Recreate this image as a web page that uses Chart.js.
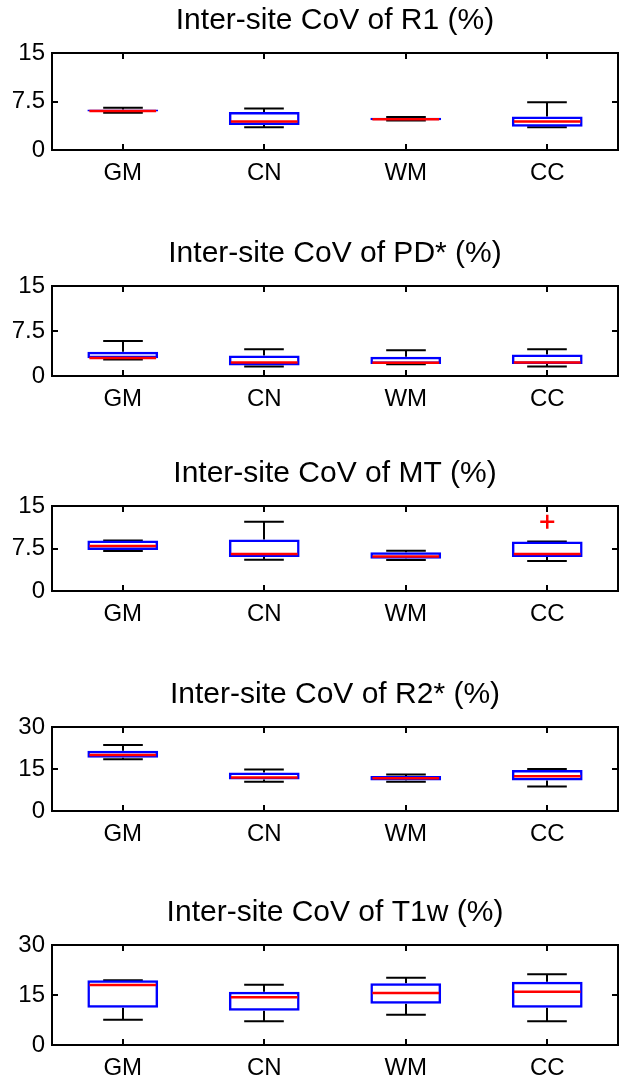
<!DOCTYPE html>
<html>
<head>
<meta charset="utf-8">
<title>Inter-site CoV</title>
<script src="https://cdn.jsdelivr.net/npm/chart.js@4.4.1/dist/chart.umd.min.js"></script>
<style>
  html, body { margin: 0; padding: 0; background: #fff; }
  body { width: 630px; height: 1084px; position: relative; overflow: hidden; }
  .panel { position: absolute; left: 0; }
</style>
</head>
<body>
<div id="panels"></div>
<script>
// Data: each box is [lower whisker, q1, median, q3, upper whisker]
const categories = ['GM', 'CN', 'WM', 'CC'];
const titles = [
    'Inter-site CoV of R1 (%)',
    'Inter-site CoV of PD* (%)',
    'Inter-site CoV of MT (%)',
    'Inter-site CoV of R2* (%)',
    'Inter-site CoV of T1w (%)'
];

const r1Stats = [[5.75, 5.95, 6.05, 6.25, 6.55], [3.5, 3.87, 4.4, 5.88, 6.41], [4.55, 4.6, 4.77, 5.0, 5.1], [3.5, 3.6, 4.4, 5.19, 7.37]];
const pdStats = [[2.75, 2.95, 3.0, 4.05, 5.85], [1.6, 1.76, 2.25, 3.4, 4.45], [1.95, 1.98, 2.2, 3.19, 4.29], [1.6, 1.98, 2.25, 3.57, 4.45]];
const mtStats = [[7.05, 7.22, 7.95, 8.92, 8.92], [5.5, 6.02, 6.53, 9.09, 12.2], [5.45, 5.68, 6.08, 6.82, 7.1], [5.28, 6.02, 6.53, 8.75, 8.75]];
const r2Stats = [[18.5, 19.0, 20.0, 21.5, 23.6], [10.45, 11.25, 12.0, 13.75, 14.8], [10.45, 10.9, 11.7, 12.5, 13.0], [8.75, 10.9, 12.4, 14.66, 15.0]];
const t1Stats = [[7.55, 11.2, 18.0, 19.4, 19.4], [7.14, 10.3, 14.3, 16.0, 18.06], [9.1, 12.4, 15.6, 18.5, 20.2], [7.14, 11.2, 16.0, 19.0, 21.2]];

const mtOutliers = [null, null, null, 12.2];
const noOutliers = [null, null, null, null];

const ticks15 = [0, 7.5, 15];
const ticks30 = [0, 15, 30];

// Layout (plot area top / bottom of each panel)
const plotTops = [53, 286, 506, 727, 945];
const plotBottoms = [150, 376, 591, 811, 1045];

const FONT = 'Liberation Sans, Arial, Helvetica, sans-serif';
const TITLE_SIZE = 30;
const TITLE_PAD_TOP = 2;
const TITLE_PAD_BOTTOM = 14;
const X_AXIS_H = 36;
const PLOT_LEFT = 52;
const PLOT_RIGHT = 618;
// canvas is wider than the page so the title centres over the axes
const CANVAS_W = PLOT_LEFT + PLOT_RIGHT;

// whiskers go under the boxes
const whiskerPlugin = {
    id: 'whiskers',
    beforeDatasetsDraw(chart, args, opts) {
        const { ctx, scales: { x, y } } = chart;
        const meta = chart.getDatasetMeta(0);
        ctx.save();
        ctx.strokeStyle = '#000';
        ctx.lineWidth = 2;
        opts.stats.forEach((s, i) => {
            const cx = Math.round(x.getPixelForValue(i));
            const half = meta.data[i].width / 2;
            const cap = half * 0.56;
            const yLo = y.getPixelForValue(s[0]);
            const yQ1 = y.getPixelForValue(s[1]);
            const yQ3 = y.getPixelForValue(s[3]);
            const yHi = y.getPixelForValue(s[4]);
            ctx.beginPath();
            ctx.moveTo(cx, yQ3); ctx.lineTo(cx, yHi);
            ctx.moveTo(cx, yQ1); ctx.lineTo(cx, yLo);
            ctx.moveTo(cx - cap, yHi); ctx.lineTo(cx + cap, yHi);
            ctx.moveTo(cx - cap, yLo); ctx.lineTo(cx + cap, yLo);
            ctx.stroke();
        });
        ctx.restore();
    },
    afterDatasetsDraw(chart, args, opts) {
        const { ctx, chartArea: a, scales: { x, y } } = chart;
        const meta = chart.getDatasetMeta(0);
        ctx.save();
        // medians
        ctx.strokeStyle = '#ff0000';
        ctx.lineWidth = 2.5;
        opts.stats.forEach((s, i) => {
            const cx = x.getPixelForValue(i);
            const half = meta.data[i].width / 2 - 2;
            const yMed = y.getPixelForValue(s[2]);
            ctx.beginPath();
            ctx.moveTo(cx - half, yMed); ctx.lineTo(cx + half, yMed);
            ctx.stroke();
        });
        // axes frame with inward ticks
        ctx.strokeStyle = '#000';
        ctx.lineWidth = 2;
        ctx.strokeRect(a.left, a.top, a.right - a.left, a.bottom - a.top);
        const tl = 6;
        ctx.beginPath();
        x.ticks.forEach((t, i) => {
            const px = Math.round(x.getPixelForTick(i));
            ctx.moveTo(px, a.bottom); ctx.lineTo(px, a.bottom - tl);
            ctx.moveTo(px, a.top); ctx.lineTo(px, a.top + tl);
        });
        y.ticks.forEach((t, i) => {
            const py = Math.round(y.getPixelForTick(i));
            ctx.moveTo(a.left, py); ctx.lineTo(a.left + tl, py);
            ctx.moveTo(a.right, py); ctx.lineTo(a.right - tl, py);
        });
        ctx.stroke();
        ctx.restore();
    }
};

function makePanel(idx, title, stats, yTicks, outliers) {
    const titleBlock = TITLE_PAD_TOP + TITLE_SIZE * 1.2 + TITLE_PAD_BOTTOM;
    const top = plotTops[idx] - titleBlock;
    const height = plotBottoms[idx] - top + X_AXIS_H;

    const div = document.createElement('div');
    div.className = 'panel';
    div.style.top = top + 'px';
    div.style.width = CANVAS_W + 'px';
    div.style.height = height + 'px';
    const canvas = document.createElement('canvas');
    canvas.width = CANVAS_W;
    canvas.height = height;
    div.appendChild(canvas);
    document.getElementById('panels').appendChild(div);

    new Chart(canvas.getContext('2d'), {
        type: 'bar',
        data: {
            labels: categories,
            datasets: [{
                data: stats.map(s => [s[1], s[3]]),
                backgroundColor: 'rgba(0,0,0,0)',
                borderColor: '#0000ff',
                borderWidth: 2.5,
                borderSkipped: false,
                barPercentage: 0.5,
                categoryPercentage: 1.0
            }, {
                type: 'line',
                data: outliers,
                showLine: false,
                pointStyle: 'cross',
                pointRadius: 7,
                pointBorderWidth: 2.5,
                borderColor: '#ff0000',
                backgroundColor: '#ff0000'
            }]
        },
        options: {
            responsive: false,
            animation: false,
            devicePixelRatio: 1,
            layout: { padding: 0 },
            plugins: {
                legend: { display: false },
                tooltip: { enabled: false },
                title: {
                    display: true,
                    text: title,
                    color: '#000',
                    font: { family: FONT, size: TITLE_SIZE, weight: 'normal' },
                    padding: { top: TITLE_PAD_TOP, bottom: TITLE_PAD_BOTTOM }
                },
                whiskers: { stats: stats }
            },
            scales: {
                x: {
                    offset: true,
                    grid: { display: false, drawTicks: false },
                    border: { display: false },
                    ticks: { color: '#000', font: { family: FONT, size: 24 }, padding: 9 },
                    afterFit: s => { s.height = X_AXIS_H; }
                },
                y: {
                    min: 0,
                    max: yTicks[yTicks.length - 1],
                    grid: { display: false, drawTicks: false },
                    border: { display: false },
                    afterBuildTicks: s => { s.ticks = yTicks.map(v => ({ value: v })); },
                    ticks: { color: '#000', font: { family: FONT, size: 24 }, padding: 7, callback: v => String(v) },
                    afterFit: s => { s.width = PLOT_LEFT; }
                },
                // empty right-hand axis, only reserves space past the frame
                yRight: {
                    position: 'right',
                    min: 0,
                    max: 1,
                    grid: { display: false, drawTicks: false },
                    border: { display: false },
                    ticks: { display: false },
                    afterFit: s => { s.width = CANVAS_W - PLOT_RIGHT; }
                }
            }
        },
        plugins: [whiskerPlugin]
    });
}

makePanel(0, titles[0], r1Stats, ticks15, noOutliers);
makePanel(1, titles[1], pdStats, ticks15, noOutliers);
makePanel(2, titles[2], mtStats, ticks15, mtOutliers);
makePanel(3, titles[3], r2Stats, ticks30, noOutliers);
makePanel(4, titles[4], t1Stats, ticks30, noOutliers);
</script>
</body>
</html>
